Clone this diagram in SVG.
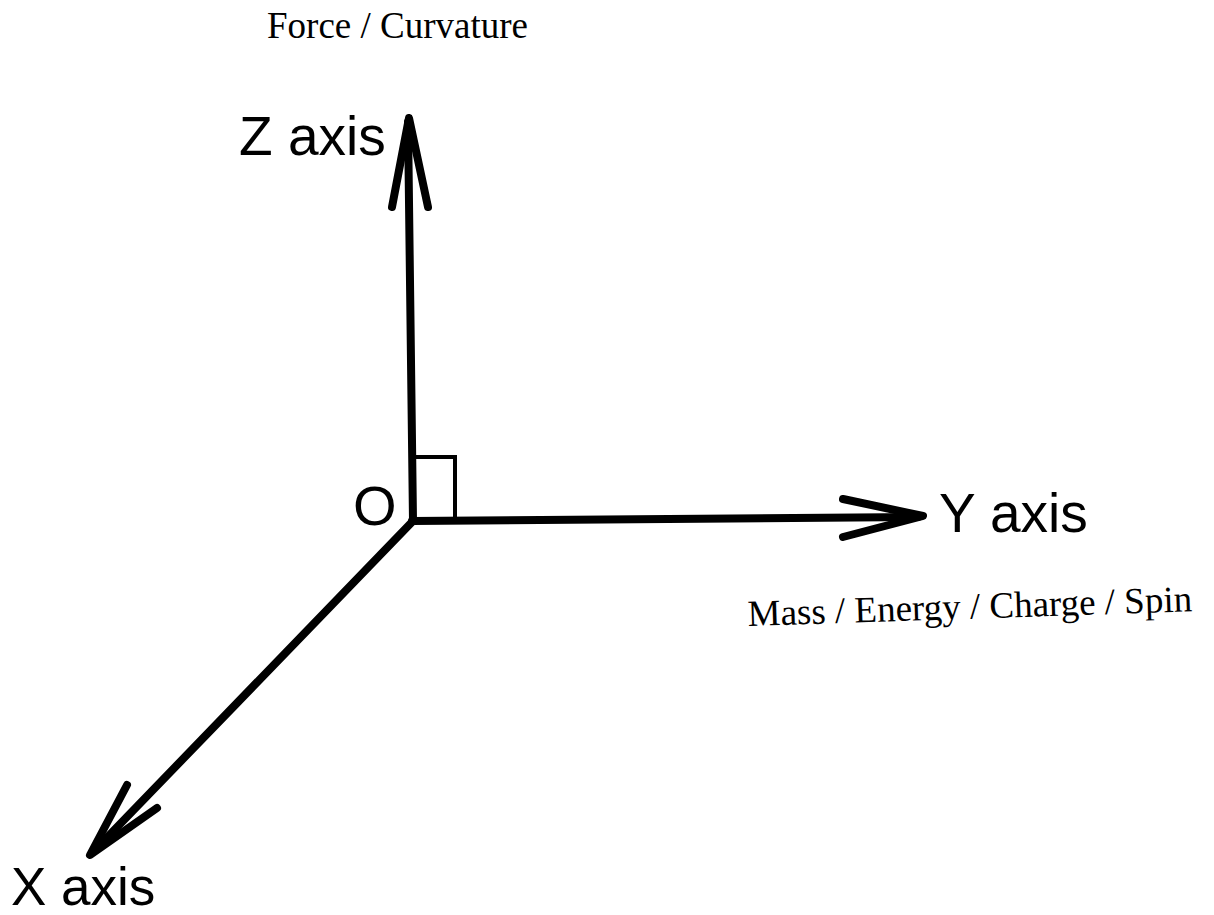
<svg xmlns="http://www.w3.org/2000/svg" width="1214" height="915" viewBox="0 0 1214 915">
<style>
.axis{stroke:#000;stroke-width:8;fill:none;stroke-linecap:round;stroke-linejoin:round}
.head{stroke:#000;stroke-width:8;fill:none;stroke-linecap:round;stroke-linejoin:round}
.sq{stroke:#000;stroke-width:4;fill:none}
.lbl{font-family:"Liberation Sans",Arial,sans-serif;fill:#000}
.cap{font-family:"Liberation Serif","Times New Roman",serif;fill:#000;font-size:37px}
</style>
<rect width="1214" height="915" fill="#fff"/>
<g id="connectors">
<line class="axis" x1="413" y1="521" x2="408" y2="122"/>
<polyline class="head" points="392,207 409,118 428,207"/>
<line class="axis" x1="412" y1="521" x2="918" y2="517"/>
<polyline class="head" points="843,499 923,516 843,537"/>
<line class="axis" x1="412" y1="522" x2="93" y2="852"/>
<polyline class="head" points="127,785 90,855 157,808"/>
<polyline class="sq" points="413,457 455,457 455,521"/>
</g>
<g id="z-axis"><text class="lbl" x="239" y="155" font-size="55">Z axis</text></g>
<g id="y-axis"><text class="lbl" x="939" y="532" font-size="55">Y axis</text></g>
<g id="x-axis"><text class="lbl" x="11" y="905" font-size="53">X axis</text></g>
<g id="origin"><text class="lbl" x="353" y="525" font-size="56">O</text></g>
<g id="force"><text class="cap" x="267" y="38">Force / Curvature</text></g>
<g id="mass"><text class="cap" x="748" y="626" transform="rotate(-1.9 748 626)">Mass / Energy / Charge / Spin</text></g>
</svg>
